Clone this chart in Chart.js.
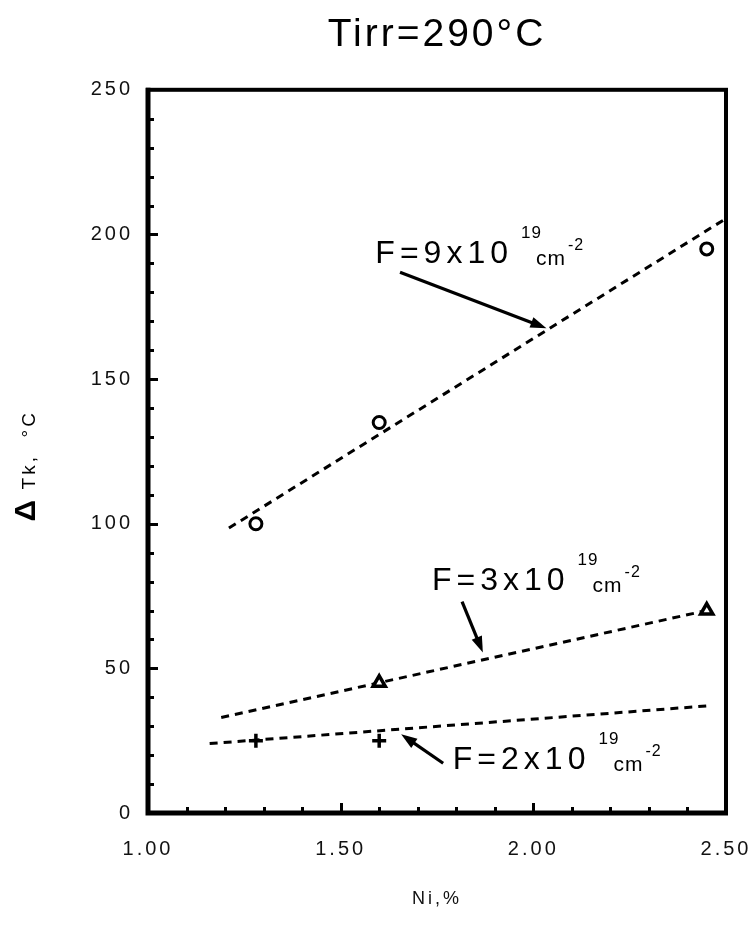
<!DOCTYPE html>
<html>
<head>
<meta charset="utf-8">
<script src="https://cdn.jsdelivr.net/npm/chart.js@4.4.1/dist/chart.umd.min.js"></script>
<style>
  html, body { margin: 0; padding: 0; background: #fff; }
  canvas { display: block; }
</style>
</head>
<body>
<canvas id="chart" width="756" height="925"></canvas>
<script>
// Axis ticks
const xTickValues = [1.0, 1.5, 2.0, 2.5];
const xTickLabels = ['1.00', '1.50', '2.00', '2.50'];
const yTickValues = [0, 50, 100, 150, 200, 250];
const yTickLabels = ['0', '50', '100', '150', '200', '250'];

// Measured shifts, ΔTk (°C) against Ni content (%)
const niHigh = [1.28, 1.60, 2.45];   // F = 9x10^19 cm^-2
const dtkHigh = [100, 135, 195];
const niMid = [1.60, 2.45];          // F = 3x10^19 cm^-2
const dtkMid = [45, 70];
const niLow = [1.28, 1.60];          // F = 2x10^19 cm^-2
const dtkLow = [25, 25];

// Trend lines, end points
const fitHighNi = [1.21, 2.50];
const fitHighDtk = [98.5, 205.5];
const fitMidNi = [1.19, 2.45];
const fitMidDtk = [33, 70];
const fitLowNi = [1.16, 2.45];
const fitLowDtk = [24, 37];

// Fluence notes: text anchor and arrow (in axis units)
const fluenceText = ['F=9x10', 'F=3x10', 'F=2x10'];
const noteNi = [1.59, 1.737, 1.791];
const noteDtk = [190.3, 77.2, 15.2];
const arrowFromNi = [1.654, 1.815, 1.766];
const arrowFromDtk = [186.9, 73.1, 17.2];
const arrowToNi = [2.034, 1.869, 1.657];
const arrowToDtk = [167.6, 55.5, 27.2];

const FONT = '"Liberation Sans", Arial, Helvetica, sans-serif';
const pts = (xs, ys) => xs.map((x, i) => ({ x, y: ys[i] }));

function setSpacing(chart) { chart.ctx.letterSpacing = '3px'; }

function drawArrow(ctx, x1, y1, x2, y2) {
  const a = Math.atan2(y2 - y1, x2 - x1);
  const c = Math.cos(a), s = Math.sin(a);
  const hl = 16, hw = 5.5;
  ctx.lineWidth = 3.2;
  ctx.beginPath();
  ctx.moveTo(x1, y1);
  ctx.lineTo(x2 - hl * 0.7 * c, y2 - hl * 0.7 * s);
  ctx.stroke();
  ctx.beginPath();
  ctx.moveTo(x2, y2);
  ctx.lineTo(x2 - hl * c + hw * s, y2 - hl * s - hw * c);
  ctx.lineTo(x2 - hl * c - hw * s, y2 - hl * s + hw * c);
  ctx.closePath();
  ctx.fill();
}

const decorations = {
  id: 'decorations',
  beforeUpdate: setSpacing,
  beforeLayout: setSpacing,
  beforeDraw: setSpacing,
  beforeDatasetsDraw(chart) {
    const { ctx, chartArea: a, scales: { x, y } } = chart;
    ctx.save();
    ctx.strokeStyle = '#000';
    ctx.lineCap = 'butt';
    // inward tick marks on left and bottom axes
    ctx.lineWidth = 3;
    for (let v = 10; v < 250; v += 10) {
      const py = Math.round(y.getPixelForValue(v)) + 0.5;
      const len = v % 50 === 0 ? 10 : 6;
      ctx.beginPath();
      ctx.moveTo(a.left, py);
      ctx.lineTo(a.left + len, py);
      ctx.stroke();
    }
    for (let k = 11; k < 25; k++) {
      const px = Math.round(x.getPixelForValue(k / 10)) + 0.5;
      const len = k % 5 === 0 ? 10 : 6;
      ctx.beginPath();
      ctx.moveTo(px, a.bottom);
      ctx.lineTo(px, a.bottom - len);
      ctx.stroke();
    }
    // frame
    ctx.lineWidth = 4;
    ctx.strokeRect(a.left, a.top, a.right - a.left, a.bottom - a.top);
    ctx.lineWidth = 5;
    ctx.beginPath();
    ctx.moveTo(a.left, a.top - 2);
    ctx.lineTo(a.left, a.bottom);
    ctx.lineTo(a.right + 2, a.bottom);
    ctx.stroke();
    ctx.restore();
  },
  afterDraw(chart) {
    const { ctx, chartArea: a, scales: { x, y } } = chart;
    ctx.save();
    ctx.fillStyle = '#000';
    ctx.strokeStyle = '#000';
    ctx.textBaseline = 'alphabetic';
    ctx.textAlign = 'left';

    // fluence notes
    fluenceText.forEach((t, i) => {
      const px = x.getPixelForValue(noteNi[i]);
      const py = y.getPixelForValue(noteDtk[i]);
      ctx.letterSpacing = '5px';
      ctx.font = '32px ' + FONT;
      ctx.fillText(t, px, py);
      const end = px + ctx.measureText(t).width - 5;
      ctx.letterSpacing = '1px';
      ctx.font = '17px ' + FONT;
      ctx.fillText('19', end + 13, py - 25);
      ctx.font = '21px ' + FONT;
      const cmX = end + 28;
      ctx.fillText('cm', cmX, py + 2);
      const cmEnd = cmX + ctx.measureText('cm').width;
      ctx.font = '16px ' + FONT;
      ctx.fillText('-2', cmEnd + 2, py - 13);

      ctx.letterSpacing = '0px';
      drawArrow(ctx,
        x.getPixelForValue(arrowFromNi[i]), y.getPixelForValue(arrowFromDtk[i]),
        x.getPixelForValue(arrowToNi[i]), y.getPixelForValue(arrowToDtk[i]));
    });

    // y-axis title: ΔTk, °C
    const cy = (a.top + a.bottom) / 2;
    ctx.translate(35, cy + 70);
    ctx.rotate(-Math.PI / 2);
    ctx.letterSpacing = '0px';
    ctx.font = 'bold 30px ' + FONT;
    ctx.fillText('Δ', 0, 0);
    ctx.letterSpacing = '3px';
    ctx.font = '19px ' + FONT;
    ctx.fillText('Tk,  °C', 32, 0);
    ctx.restore();
  }
};

new Chart(document.getElementById('chart'), {
  type: 'scatter',
  data: {
    datasets: [
      { data: pts(niHigh, dtkHigh), pointStyle: 'circle', pointRadius: 6, borderWidth: 3,
        borderColor: '#000', backgroundColor: '#fff' },
      { data: pts(niMid, dtkMid), pointStyle: 'triangle', pointRadius: 7, borderWidth: 3.5,
        borderColor: '#000', backgroundColor: '#fff' },
      { data: pts(niLow, dtkLow), pointStyle: 'cross', pointRadius: 7, borderWidth: 3.5,
        borderColor: '#000', backgroundColor: '#000' },
      { data: pts(fitHighNi, fitHighDtk), showLine: true, pointRadius: 0, borderWidth: 3,
        borderDash: [8, 6], borderColor: '#000', fill: false },
      { data: pts(fitMidNi, fitMidDtk), showLine: true, pointRadius: 0, borderWidth: 3,
        borderDash: [8, 6], borderColor: '#000', fill: false },
      { data: pts(fitLowNi, fitLowDtk), showLine: true, pointRadius: 0, borderWidth: 3,
        borderDash: [8, 6], borderColor: '#000', fill: false }
    ]
  },
  options: {
    responsive: false,
    animation: false,
    devicePixelRatio: 1,
    layout: { padding: 0 },
    plugins: {
      legend: { display: false },
      tooltip: { enabled: false },
      title: {
        display: true,
        text: 'Tirr=290°C',
        fullSize: false,
        color: '#000',
        font: { family: FONT, size: 39, weight: 'normal' },
        padding: { top: 12, bottom: 31 }
      }
    },
    scales: {
      x: {
        type: 'linear',
        min: 1.0,
        max: 2.5,
        afterBuildTicks: s => { s.ticks = xTickValues.map(v => ({ value: v })); },
        afterFit: s => { s.height = 112; s.paddingLeft = 0; s.paddingRight = 30; },
        grid: { display: false, drawTicks: false },
        border: { display: false },
        ticks: {
          color: '#111',
          padding: 24,
          maxRotation: 0,
          font: { family: FONT, size: 20 },
          callback: (v, i) => xTickLabels[i]
        },
        title: {
          display: true,
          text: 'Ni,%',
          color: '#111',
          font: { family: FONT, size: 18 },
          padding: { top: 0, bottom: 15 }
        }
      },
      y: {
        type: 'linear',
        min: 0,
        max: 250,
        afterBuildTicks: s => { s.ticks = yTickValues.map(v => ({ value: v })); },
        afterFit: s => { s.width = 148; },
        grid: { display: false, drawTicks: false },
        border: { display: false },
        ticks: {
          color: '#111',
          padding: 15,
          font: { family: FONT, size: 20 },
          callback: (v, i) => yTickLabels[i]
        },
        title: { display: false }
      }
    }
  },
  plugins: [decorations]
});
</script>
</body>
</html>
